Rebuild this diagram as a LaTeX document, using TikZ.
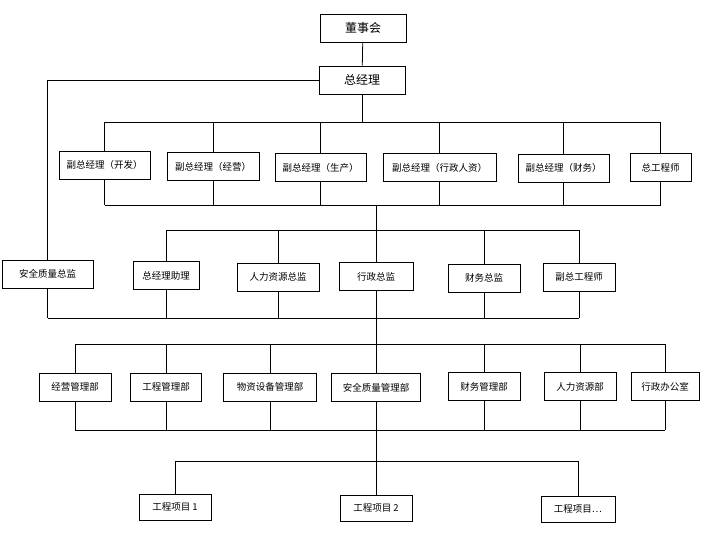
\documentclass[tikz,border=0pt]{standalone}
\usepackage{fontspec}
\setmainfont{Noto Sans CJK SC}
\usetikzlibrary{positioning,calc}

\begin{document}
\begin{tikzpicture}[x=1pt,y=-1pt,
    box/.style={draw,line width=1pt,minimum height=28pt,inner sep=1pt,font=\fontsize{9.5}{11}\selectfont},
    bigbox/.style={box,minimum width=86pt,font=\fontsize{12}{14}\selectfont},
    link/.style={line width=0.8pt}]
    \useasboundingbox (0,0) rectangle (706,536);
    % top
    \node[bigbox] (dsh) at (363,28) {董事会};
    \node[bigbox] (zjl) at (362,80) {总经理};
    % deputies
    \node[box,minimum width=91pt] (fz1) at (104.5,165) {副总经理（开发）};
    \node[box,minimum width=92pt] (fz2) at (213,166.5) {副总经理（经营）};
    \node[box,minimum width=91pt] (fz3) at (320.5,167.5) {副总经理（生产）};
    \node[box,minimum width=113pt] (fz4) at (439.5,167.5) {副总经理（行政人资）};
    \node[box,minimum width=91pt] (fz5) at (563.5,168) {副总经理（财务）};
    \node[box,minimum width=61pt] (fz6) at (660.5,167.5) {总工程师};
    % directors
    \node[box,minimum width=91pt] (zj1) at (47.5,274) {安全质量总监};
    \node[box,minimum width=66pt] (zj2) at (166,275.5) {总经理助理};
    \node[box,minimum width=82pt] (zj3) at (278,277) {人力资源总监};
    \node[box,minimum width=74pt] (zj4) at (376,276.5) {行政总监};
    \node[box,minimum width=72pt] (zj5) at (484,278) {财务总监};
    \node[box,minimum width=72pt] (zj6) at (579,277) {副总工程师};
    % departments
    \node[box,minimum width=72pt] (bm1) at (75,387) {经营管理部};
    \node[box,minimum width=71pt] (bm2) at (166,387) {工程管理部};
    \node[box,minimum width=93pt] (bm3) at (270,387) {物资设备管理部};
    \node[box,minimum width=89pt] (bm4) at (376,387.5) {安全质量管理部};
    \node[box,minimum width=72pt] (bm5) at (484,386.5) {财务管理部};
    \node[box,minimum width=72pt] (bm6) at (580,386.5) {人力资源部};
    \node[box,minimum width=68pt] (bm7) at (665,386.5) {行政办公室};
    % projects
    \node[box,minimum width=72pt,minimum height=26pt] (xm1) at (175,507) {工程项目 1};
    \node[box,minimum width=72pt,minimum height=26pt] (xm2) at (376,508) {工程项目 2};
    \node[box,minimum width=74pt,minimum height=26pt] (xm3) at (578,509) {工程项目…};

    % buses
    \coordinate (busA) at (0,122);
    \coordinate (busB) at (0,205);
    \coordinate (busC) at (0,230);
    \coordinate (busD) at (0,318);
    \coordinate (busE) at (0,344);
    \coordinate (busF) at (0,430);
    \coordinate (busG) at (0,461);

    \draw[link] (dsh) -- (zjl);
    \draw[link] (zjl.west) -| (zj1.north);
    \draw[link] (zjl.south) -- (zjl.south |- busA);
    \draw[link] (fz1.north |- busA) -- (fz6.north |- busA);
    \draw[link] (fz1.south |- busB) -- (fz6.south |- busB);
    \foreach \n in {fz1,fz2,fz3,fz4,fz5,fz6} {
        \draw[link] (\n.north) -- (\n.north |- busA);
        \draw[link] (\n.south) -- (\n.south |- busB);
    }
    \draw[link] (zj4.north |- busB) -- (zj4.north);
    \draw[link] (zj2.north |- busC) -- (zj6.north |- busC);
    \foreach \n in {zj2,zj3,zj5,zj6}
        \draw[link] (\n.north) -- (\n.north |- busC);
    \draw[link] (zj1.south |- busD) -- (zj6.south |- busD);
    \foreach \n in {zj1,zj2,zj3,zj4,zj5,zj6}
        \draw[link] (\n.south) -- (\n.south |- busD);
    \draw[link] (zj4.south |- busD) -- (bm4.north);
    \draw[link] (bm1.north |- busE) -- (bm7.north |- busE);
    \draw[link] (bm1.south |- busF) -- (bm7.south |- busF);
    \foreach \n in {bm1,bm2,bm3,bm5,bm6,bm7} {
        \draw[link] (\n.north) -- (\n.north |- busE);
        \draw[link] (\n.south) -- (\n.south |- busF);
    }
    \draw[link] (bm4.south) -- (xm2.north);
    \draw[link] (xm1.north |- busG) -- (xm3.north |- busG);
    \draw[link] (xm1.north) -- (xm1.north |- busG);
    \draw[link] (xm3.north) -- (xm3.north |- busG);
\end{tikzpicture}
\end{document}
